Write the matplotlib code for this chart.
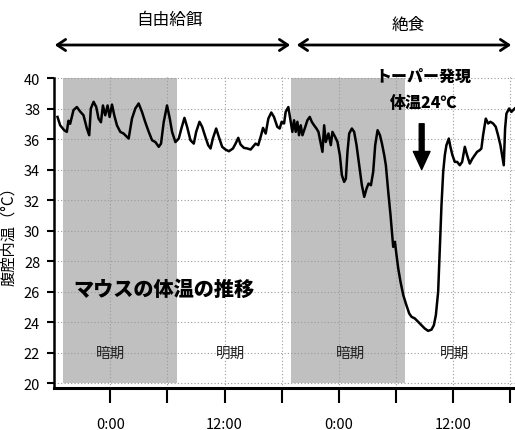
import matplotlib
matplotlib.use("Agg")
import matplotlib.pyplot as plt
import numpy as np

plt.rcParams["font.family"] = ["Liberation Sans Narrow", "Noto Sans CJK JP", "DejaVu Sans"]

# hours from first 0:00, body temperature (degC)
hours = [
    -5.54, -5.26, -4.84, -4.56, -4.39, -4.21, -3.86, -3.51, -3.16, -2.81,
    -2.46, -2.21, -2.04, -1.75, -1.47, -1.23, -0.98, -0.77, -0.53, -0.28,
    -0.07, 0.18, 0.42, 0.70, 1.05, 1.40, 1.93, 2.28, 2.63, 2.98,
    3.33, 3.68, 4.04, 4.39, 4.74, 5.09, 5.33, 5.61, 5.96, 6.25,
    6.49, 6.84, 7.19, 7.47, 7.79, 8.07, 8.42, 8.77, 9.02, 9.37,
    9.65, 9.93, 10.28, 10.53, 10.77, 11.12, 11.40, 11.75, 12.10, 12.46,
    12.88, 13.16, 13.44, 13.68, 14.04, 14.39, 14.74, 14.98, 15.26, 15.54,
    15.79, 16.04, 16.32, 16.60, 16.91, 17.19, 17.54, 17.79, 18.00, 18.25,
    18.42, 18.70, 18.95, 19.12, 19.30, 19.47, 19.65, 19.82, 20.00, 20.18,
    20.42, 20.70, 20.95, 21.16, 21.40, 21.65, 21.86, 22.11, 22.28, 22.46,
    22.63, 22.91, 23.16, 23.33, 23.61, 23.86, 24.11, 24.32, 24.56, 24.74,
    24.91, 25.09, 25.37, 25.61, 25.86, 26.14, 26.42, 26.67, 26.91, 27.12,
    27.37, 27.61, 27.82, 28.07, 28.32, 28.53, 28.77, 28.94, 29.19, 29.43,
    29.64, 29.71, 29.89, 30.06, 30.24, 30.48, 30.77, 31.04, 31.39, 31.64,
    31.99, 32.34, 32.68, 33.03, 33.38, 33.73, 33.98, 34.19, 34.43, 34.61,
    34.78, 34.96, 35.13, 35.30, 35.55, 35.72, 35.93, 36.18, 36.43, 36.70,
    36.95, 37.23, 37.47, 37.75, 38.03, 38.28, 38.52, 38.80, 38.97, 39.15,
    39.43, 39.68, 39.92, 40.20, 40.48, 40.72, 40.97, 41.18, 41.32, 41.46,
    41.60, 41.88, 42.12, 42.47,
]
temps = [
    37.45, 36.90, 36.58, 36.47, 37.20, 37.00, 37.90, 38.10, 37.80, 37.56,
    36.70, 36.25, 38.00, 38.44, 38.10, 37.34, 37.10, 38.20, 37.56, 38.20,
    37.45, 38.26, 37.56, 36.90, 36.47, 36.36, 36.03, 37.34, 38.00, 38.33,
    37.78, 37.10, 36.47, 35.92, 35.80, 35.49, 35.70, 37.10, 38.20, 37.34,
    36.47, 35.80, 36.03, 36.69, 37.39, 36.80, 35.92, 35.70, 36.47, 37.13,
    36.80, 36.25, 35.60, 35.38, 36.03, 36.69, 36.14, 35.49, 35.31, 35.20,
    35.38, 35.70, 36.08, 35.64, 35.42, 35.38, 35.31, 35.49, 35.70, 35.60,
    36.14, 36.73, 36.36, 37.34, 37.74, 37.45, 36.80, 36.69, 37.13, 37.02,
    37.78, 38.10, 37.13, 36.47, 37.23, 36.47, 37.13, 36.25, 36.90, 36.25,
    36.69, 37.23, 37.45, 37.13, 36.90, 36.69, 36.47, 35.70, 35.16, 36.90,
    35.81, 36.36, 35.60, 36.47, 36.14, 35.81, 34.94, 33.63, 33.19, 33.40,
    35.16, 36.36, 36.69, 36.47, 35.60, 34.28, 32.97, 32.21, 32.75, 33.08,
    32.97, 33.85, 35.60, 36.58, 36.25, 35.70, 34.94, 34.28, 32.54, 31.00,
    29.48, 28.93, 29.26, 28.38, 27.51, 26.63, 25.76, 25.21, 24.56, 24.34,
    24.23, 24.01, 23.79, 23.57, 23.42, 23.50, 23.79, 24.45, 25.98, 28.82,
    31.66, 33.85, 34.94, 35.60, 36.03, 35.49, 34.94, 34.50, 34.50, 34.28,
    34.50, 35.49, 34.94, 34.39, 34.72, 34.94, 35.16, 35.27, 35.38, 36.25,
    37.34, 37.02, 37.13, 37.02, 36.80, 36.25, 35.60, 34.83, 34.28, 36.69,
    37.67, 38.00, 37.78, 38.00,
]

dark_periods = [(-5, 7), (19, 31)]
period_labels = ["暗期", "明期", "暗期", "明期"]
period_pos = [0, 12.6, 25.2, 36.1]
tick_hours = [0, 6, 12, 18, 24, 30, 36, 42]
tick_labels = ["0:00", "", "12:00", "", "0:00", "", "12:00", ""]
y_ticks = list(range(20, 41, 2))

fig = plt.figure(figsize=(5.15, 4.31), dpi=100)
ax = fig.add_axes([0.105, 0.0984, 0.895, 0.7253])

for a, b in dark_periods:
    ax.fill_between([a, b], 20, 40, color="#c0c0c0", lw=0, zorder=0.2)

ax.plot(hours, temps, color="black", lw=1.8, zorder=3)

ax.set_xlim(-5.9, 42.5)
ax.set_ylim(19.7, 40.2)
ax.set_xticks(tick_hours)
ax.set_xticklabels(tick_labels, fontsize=10.5)
ax.set_yticks(y_ticks)
ax.set_yticklabels([str(v) for v in y_ticks], fontsize=10.5)
ax.tick_params(axis="x", length=11, width=1.5, pad=10)
ax.tick_params(axis="y", length=5, width=1.5, pad=5)
ax.set_axisbelow(True)
ax.grid(True, color="#9a9a9a", lw=0.8, linestyle=(0, (1, 2)))
for s in ["top", "right"]:
    ax.spines[s].set_visible(False)
ax.spines["left"].set_linewidth(1.8)
ax.spines["bottom"].set_linewidth(2.2)
ax.spines["left"].set_bounds(19.7, 40)

ax.set_ylabel("腹腔内温（°C）", fontsize=11, family=["Noto Sans CJK JP"], labelpad=5)

for lab, x in zip(period_labels, period_pos):
    ax.text(x, 22, lab, ha="center", va="center", fontsize=10.5,
            family=["Noto Sans CJK JP"], color="#222222")

ax.text(5.66, 26.2, "マウスの体温の推移", ha="center", va="center", fontsize=14.5,
        fontweight="heavy", family=["Noto Sans CJK JP"])
ax.text(32.9, 40.1, "トーパー発現", ha="center", va="center", fontsize=11.5,
        fontweight="heavy", family=["Noto Sans CJK JP"], clip_on=False)
ax.text(32.9, 38.45, "体温24℃", ha="center", va="center", fontsize=11.5,
        fontweight="heavy", family=["Noto Sans CJK JP"], clip_on=False)
ax.annotate("", xy=(32.7, 34.0), xytext=(32.7, 37.0),
            arrowprops=dict(facecolor="black", edgecolor="black", width=3.5,
                            headwidth=12, headlength=13, shrink=0))

# feeding / fasting header
fig.text(170 / 515, 1 - 20 / 431, "自由給餌", ha="center", va="center",
         fontsize=12, family=["Noto Sans CJK JP"])
fig.text(408 / 515, 1 - 25 / 431, "絶食", ha="center", va="center",
         fontsize=12, family=["Noto Sans CJK JP"])
ya = 1 - 46 / 431
for x0, x1 in [(52, 293), (294, 514)]:
    fig.add_artist(matplotlib.patches.FancyArrowPatch(
        (x0 / 515, ya), (x1 / 515, ya), transform=fig.transFigure,
        arrowstyle="<->,head_length=6,head_width=4", lw=2, color="black",
        mutation_scale=1))

fig.savefig("out.png", dpi=100)
